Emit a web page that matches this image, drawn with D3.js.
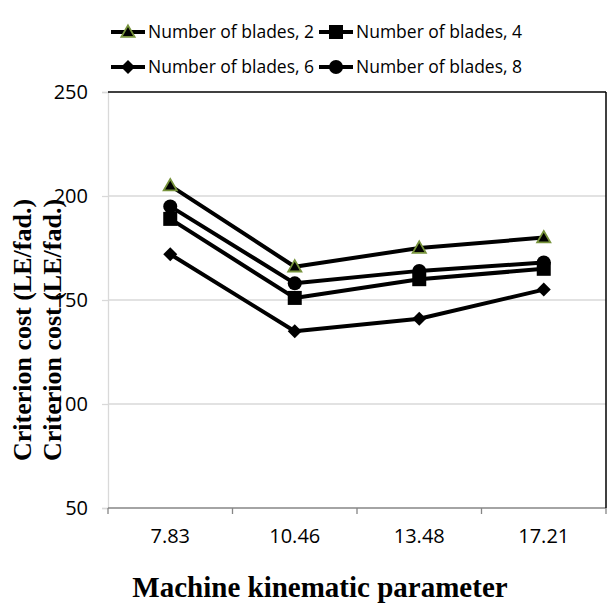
<!DOCTYPE html>
<html><head><meta charset="utf-8">
<script src="https://cdn.jsdelivr.net/npm/d3@7"></script>
<style>body{margin:0;background:#fff}svg{display:block}</style>
</head><body>
<script>
const categories = ["7.83","10.46","13.48","17.21"];
const seriesNames = ["Number of blades, 2","Number of blades, 4","Number of blades, 6","Number of blades, 8"];
const blades2 = [205,166,175,180];
const blades4 = [189,151,160,165];
const blades6 = [172,135,141,155];
const blades8 = [195,158,164,168];
const yTicks = [50,100,150,200,250];
const markerTypes = ["triangle","square","diamond","circle"];

const seriesValues = [blades2, blades4, blades6, blades8];
const W = 611, H = 603;
const m = {left:108, right:606, top:92, bottom:508};
const svg = d3.select("body").append("svg").attr("width",W).attr("height",H);

const x = d3.scaleBand().domain(categories).range([m.left,m.right]);
const y = d3.scaleLinear().domain([50,250]).range([m.bottom,m.top]);
const tickFont = "'Open Sans', sans-serif";

// gridlines
svg.append("g").selectAll("line").data(yTicks.filter(t=>t>50&&t<250)).join("line")
  .attr("x1",m.left).attr("x2",m.right).attr("y1",d=>y(d)).attr("y2",d=>y(d))
  .attr("stroke","#d9d9d9").attr("stroke-width",1.3);

// y axis
const ya = svg.append("g").attr("transform",`translate(${m.left},0)`)
  .call(d3.axisLeft(y).tickValues(yTicks).tickSize(6).tickPadding(14));
ya.select(".domain").attr("stroke","#d9d9d9").attr("stroke-width",1.3);
ya.selectAll(".tick line").attr("stroke","#d9d9d9").attr("stroke-width",1.3);
ya.selectAll("text").attr("font-family",tickFont).attr("font-size",20).attr("fill","#000");

// x axis
const xa = svg.append("g").attr("transform",`translate(0,${m.bottom})`)
  .call(d3.axisBottom(x).tickSize(0).tickPadding(21));
xa.select(".domain").remove();
svg.append("line").attr("x1",m.left).attr("x2",m.right).attr("y1",m.bottom).attr("y2",m.bottom)
  .attr("stroke","#868686").attr("stroke-width",1.3);
const bounds = categories.map(c=>x(c)).concat([m.right]);
svg.append("g").selectAll("line").data(bounds).join("line")
  .attr("x1",d=>d).attr("x2",d=>d).attr("y1",m.bottom).attr("y2",m.bottom+6)
  .attr("stroke","#868686").attr("stroke-width",1.3);
xa.selectAll("text").attr("font-family",tickFont).attr("font-size",20).attr("fill","#000");

// plot border top & right
svg.append("line").attr("x1",m.left).attr("x2",m.right).attr("y1",m.top).attr("y2",m.top).attr("stroke","#000").attr("stroke-width",1.5);
svg.append("line").attr("x1",m.right).attr("x2",m.right).attr("y1",m.top).attr("y2",m.bottom).attr("stroke","#000").attr("stroke-width",1.5);

function marker(g, type, cx, cy){
  if(type==="triangle"){
    g.append("path").attr("d",d3.symbol(d3.symbolTriangle,75)()).attr("transform",`translate(${cx},${cy+1})`)
     .attr("fill","#000").attr("stroke","#77933c").attr("stroke-width",1.8);
  } else if(type==="square"){
    g.append("rect").attr("x",cx-7).attr("y",cy-7).attr("width",14).attr("height",14).attr("fill","#000");
  } else if(type==="diamond"){
    g.append("path").attr("d",`M${cx},${cy-7}L${cx+7},${cy}L${cx},${cy+7}L${cx-7},${cy}Z`).attr("fill","#000");
  } else {
    g.append("circle").attr("cx",cx).attr("cy",cy).attr("r",7).attr("fill","#000");
  }
}

const line = d3.line().x((d,i)=>x(categories[i])+x.bandwidth()/2).y(d=>y(d));
const drawOrder = [2,1,3,0];
drawOrder.forEach(si=>{
  const g = svg.append("g");
  g.append("path").datum(seriesValues[si]).attr("d",line).attr("fill","none")
    .attr("stroke","#000").attr("stroke-width",4).attr("stroke-linejoin","round");
  seriesValues[si].forEach((v,i)=>marker(g, markerTypes[si], x(categories[i])+x.bandwidth()/2, y(v)));
});

// legend
const legPos = [[111,32],[319,32],[111,67],[319,67]];
seriesNames.forEach((n,i)=>{
  const [lx,ly] = legPos[i];
  const g = svg.append("g");
  g.append("line").attr("x1",lx).attr("x2",lx+34).attr("y1",ly).attr("y2",ly).attr("stroke","#000").attr("stroke-width",4);
  marker(g, markerTypes[i], lx+17, ly);
  g.append("text").attr("x",lx+37).attr("y",ly).attr("dy","0.35em")
   .attr("font-family",tickFont).attr("font-size",17.5).attr("fill","#000").text(n);
});

// y titles (duplicated as in reference)
[[31,330],[61,330]].forEach(([tx,ty])=>{
  svg.append("text").attr("transform",`translate(${tx},${ty}) rotate(-90)`).attr("text-anchor","middle")
    .attr("font-family","'Liberation Serif','Times New Roman',serif").attr("font-weight","bold").attr("font-size",26)
    .text("Criterion cost (LE/fad.)");
});

// x title
svg.append("text").attr("x",320).attr("y",597).attr("text-anchor","middle")
  .attr("font-family","'Liberation Serif','Times New Roman',serif").attr("font-weight","bold").attr("font-size",29)
  .text("Machine kinematic parameter");
</script>
</body></html>
